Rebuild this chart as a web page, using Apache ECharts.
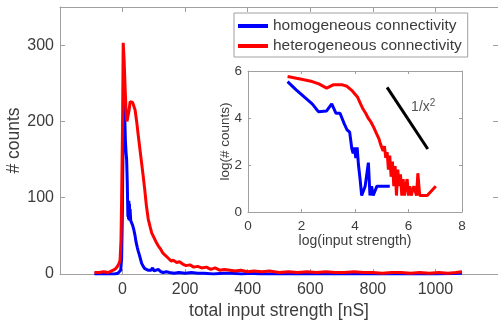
<!DOCTYPE html>
<html>
<head>
<meta charset="utf-8">
<script src="https://cdn.jsdelivr.net/npm/echarts@6/dist/echarts.min.js"></script>
<style>
  html, body { margin: 0; padding: 0; background: #fff; }
  #chart { width: 498px; height: 322px; }
</style>
</head>
<body>
<div id="chart"></div>
<script>
// ---- main histogram data (total input strength [nS] vs # counts) ----
const hetX = [-90,-75,-60,-45,-35,-25,-18,-12,-8,-5,-3,0,2,5,8,11,14,18,21,24,28,32,36,40,45,50,55,61,66,71,76,82,88,93,100,107,114,121,128,135,141,148,155,162,173,182,192,203,215,228,240,253,268,282,296,310,325,343,360,378,400,420,445,470,500,530,560,590,620,650,680,710,740,770,800,830,860,890,920,950,980,1010,1040,1065,1085];
const hetCounts = [2,2,3,2,4,6,9,13,18,45,100,200,303,280,245,215,200,198,215,226,226,225,224,215,200,182,165,145,128,110,90,72,62,54,48,42,37,33,28,25,23,20,17,18,15,16,13,11,12,9,10,8,9,6,8,5,6,5,4,5,3,4,3,4,2,3,2,3,2,3,2,2,3,2,2,1,2,2,1,2,1,2,1,2,3];

const homX = [-90,-60,-40,-25,-15,-10,-6,-3,-1,1,3,5,7,9,11,13,15,16,17,18,19,20,21,22,23,24,26,29,32,36,40,43,47,50,53,57,61,66,71,76,81,86,91,96,101,106,114,122,130,140,150,165,180,200,220,240,260,290,320,350,380,410,440,480,520,600,700,800,900,1000,1085];
const homCounts = [0,0,0,0,1,2,5,20,70,150,220,250,205,175,160,150,120,97,75,95,72,96,70,92,72,85,70,69,64,58,50,42,35,30,26,20,14,10,7,6,5,4,5,8,4,3,6,3,2,3,2,1,2,1,2,1,1,0,1,1,0,1,0,0,0,0,0,0,0,0,1];

// ---- inset data (log-log) ----
const homLogX = [1.48,1.8,2.1,2.4,2.63,2.94,3.13,3.29,3.44,3.6,3.7,3.8,3.88,3.93,3.98,4.03,4.08,4.13,4.19,4.25,4.32,4.38,4.45,4.5,4.56,4.62,4.68,4.75,4.82,4.88,5.3];
const homLogY = [5.55,5.2,4.9,4.6,4.27,4.3,4.6,4.2,4.2,3.75,3.5,3.4,2.7,2.5,2.75,2.3,2.75,2.0,1.4,0.7,0.7,1.1,1.1,2.1,0.7,1.1,0.7,0.7,1.1,1.1,1.1];
const hetLogX = [1.48,2.0,2.4,2.65,2.94,3.2,3.5,3.7,3.9,4.1,4.2,4.3,4.4,4.5,4.6,4.7,4.8,4.9,4.95,5.0,5.05,5.1,5.15,5.2,5.25,5.3,5.35,5.4,5.45,5.5,5.55,5.6,5.65,5.7,5.75,5.8,5.85,5.9,5.95,6.0,6.05,6.1,6.2,6.3,6.35,6.42,6.7,7.02];
const hetLogY = [5.77,5.65,5.55,5.45,5.27,5.42,5.42,5.35,5.15,4.88,4.62,4.38,4.2,3.98,3.82,3.6,3.35,3.1,2.9,2.95,2.6,2.8,2.3,2.55,1.8,2.4,1.5,2.15,1.1,1.95,0.7,1.8,1.1,1.6,0.7,1.4,0.7,1.1,1.4,0.7,1.1,0.7,1.1,0.7,1.65,0.7,0.7,1.1];
const slopeX = [5.2, 6.72];
const slopeY = [5.3, 2.68];
const slopeLabelPos = [6.55, 4.45];

const seriesNames = ['homogeneous connectivity', 'heterogeneous connectivity'];
const mainXTicks = [0, 200, 400, 600, 800, 1000];
const mainYTicks = [0, 100, 200, 300];

const zip = (xs, ys) => xs.map((x, i) => [x, ys[i]]);

const lineCol = '#a0a0a0';
const txtCol = '#3c3c3c';
const FONT = 'Liberation Sans, Arial, sans-serif';

function baseAxis(extra) {
  return Object.assign({
    type: 'value',
    nameMoveOverlap: false,
    axisLine: { show: true, onZero: false, lineStyle: { color: lineCol, width: 1 } },
    axisTick: { show: true, inside: true, length: 5, lineStyle: { color: lineCol } },
    splitLine: { show: false },
    axisLabel: { show: false }
  }, extra);
}

const chart = echarts.init(document.getElementById('chart'), null, { renderer: 'canvas' });
chart.setOption({
  animation: false,
  backgroundColor: '#ffffff',
  textStyle: { fontFamily: FONT },
  grid: [
    { left: 60, top: 7, width: 438, height: 267, show: false, containLabel: false, outerBoundsMode: 'none' },
    { left: 248, top: 71, width: 214, height: 141, show: true, backgroundColor: '#ffffff', borderWidth: 0,
      containLabel: false, outerBoundsMode: 'none' }
  ],
  legend: {
    data: seriesNames,
    orient: 'vertical',
    left: 234, top: 13,
    padding: [5, 6, 3, 4],
    itemWidth: 30, itemHeight: 4, itemGap: 4,
    icon: 'rect',
    backgroundColor: '#ffffff',
    borderColor: lineCol, borderWidth: 1,
    textStyle: { fontSize: 15.5, color: txtCol, fontFamily: FONT, lineHeight: 16 }
  },
  xAxis: [
    baseAxis({ gridIndex: 0, position: 'bottom', min: -200, max: 1200, interval: 200,
      axisLabel: { show: true, fontSize: 16, color: txtCol, margin: 8, fontFamily: FONT,
        formatter: v => mainXTicks.includes(v) ? String(v) : '' },
      name: 'total input strength [nS]', nameLocation: 'middle', nameGap: 28,
      nameTextStyle: { fontSize: 17.5, color: txtCol, fontFamily: FONT } }),
    baseAxis({ gridIndex: 0, position: 'top', min: -200, max: 1200, interval: 200 }),
    baseAxis({ gridIndex: 1, position: 'bottom', min: 0, max: 8, interval: 2,
      axisTick: { show: true, inside: true, length: 3, lineStyle: { color: lineCol } },
      axisLabel: { show: true, fontSize: 13.5, color: txtCol, margin: 7, fontFamily: FONT },
      name: 'log(input strength)', nameLocation: 'middle', nameGap: 22,
      nameTextStyle: { fontSize: 14, color: txtCol, fontFamily: FONT } }),
    baseAxis({ gridIndex: 1, position: 'top', min: 0, max: 8, interval: 2,
      axisTick: { show: true, inside: true, length: 3, lineStyle: { color: lineCol } } })
  ],
  yAxis: [
    baseAxis({ gridIndex: 0, position: 'left', min: 0, max: 350, interval: 100,
      axisLabel: { show: true, fontSize: 16, color: txtCol, margin: 6, fontFamily: FONT,
        formatter: v => mainYTicks.includes(v) ? String(v) : '' },
      name: '# counts', nameLocation: 'middle', nameGap: 37,
      nameTextStyle: { fontSize: 17.5, color: txtCol, fontFamily: FONT } }),
    baseAxis({ gridIndex: 0, position: 'right', min: 0, max: 350, interval: 100 }),
    baseAxis({ gridIndex: 1, position: 'left', min: 0, max: 6, interval: 2,
      axisTick: { show: true, inside: true, length: 3, lineStyle: { color: lineCol } },
      axisLabel: { show: true, fontSize: 13.5, color: txtCol, margin: 6, fontFamily: FONT },
      name: 'log(# counts)', nameLocation: 'middle', nameGap: 16,
      nameTextStyle: { fontSize: 13.5, color: txtCol, fontFamily: FONT } }),
    baseAxis({ gridIndex: 1, position: 'right', min: 0, max: 6, interval: 2,
      axisTick: { show: true, inside: true, length: 3, lineStyle: { color: lineCol } } })
  ],
  series: [
    { name: seriesNames[0], type: 'line', xAxisIndex: 0, yAxisIndex: 0, data: zip(homX, homCounts),
      showSymbol: false, color: '#0000ff', lineStyle: { width: 3, color: '#0000ff' }, z: 3 },
    { name: seriesNames[1], type: 'line', xAxisIndex: 0, yAxisIndex: 0, data: zip(hetX, hetCounts),
      showSymbol: false, color: '#ff0000', lineStyle: { width: 3, color: '#ff0000' }, z: 4 },
    { name: seriesNames[0], type: 'line', xAxisIndex: 2, yAxisIndex: 2, data: zip(homLogX, homLogY),
      showSymbol: false, color: '#0000ff', lineStyle: { width: 3, color: '#0000ff' }, z: 5 },
    { name: seriesNames[1], type: 'line', xAxisIndex: 2, yAxisIndex: 2, data: zip(hetLogX, hetLogY),
      showSymbol: false, color: '#ff0000', lineStyle: { width: 3, color: '#ff0000' }, z: 5 },
    { name: 'slope', type: 'line', xAxisIndex: 2, yAxisIndex: 2, data: zip(slopeX, slopeY),
      showSymbol: false, color: '#000000', lineStyle: { width: 3, color: '#000000' }, z: 5 },
    { name: 'slopeLabel', type: 'scatter', xAxisIndex: 2, yAxisIndex: 2, data: [slopeLabelPos],
      symbolSize: 0, silent: true, z: 6,
      label: { show: true, position: 'inside', formatter: '1/x{s|2}', color: '#262626',
        fontSize: 14, fontFamily: FONT,
        rich: { s: { fontSize: 10, verticalAlign: 'top', padding: [0, 0, 8, 0], fontFamily: FONT, color: '#262626' } } } }
  ]
});
</script>
</body>
</html>
